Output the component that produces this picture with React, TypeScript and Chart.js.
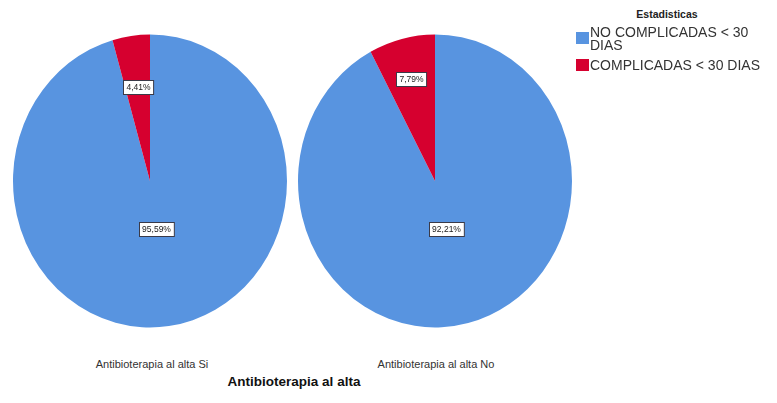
import React, { useEffect, useRef } from "react";
import { Chart, registerables } from "chart.js";

Chart.register(...registerables);

const seriesNames = ["NO COMPLICADAS < 30 DIAS", "COMPLICADAS < 30 DIAS"];
const legendTitle = "Estadisticas";
const categories = ["Antibioterapia al alta Si", "Antibioterapia al alta No"];
const axisTitle = "Antibioterapia al alta";
const valuesSi = [95.59, 4.41];
const valuesNo = [92.21, 7.79];
const colors = ["#5894e0", "#d6002f"];

const Y_STRETCH = 1.069;

const stretchPlugin = {
  id: "stretch",
  beforeDatasetsDraw(chart: any) {
    const { ctx, chartArea } = chart;
    const cx = (chartArea.left + chartArea.right) / 2;
    const cy = (chartArea.top + chartArea.bottom) / 2;
    ctx.save();
    ctx.translate(cx, cy);
    ctx.scale(1, Y_STRETCH);
    ctx.translate(-cx, -cy);
  },
  afterDatasetsDraw(chart: any) {
    chart.ctx.restore();
    const ctx = chart.ctx;
    const meta = chart.getDatasetMeta(0);
    const data = chart.data.datasets[0].data as number[];
    const factors = (chart.options.plugins as any).sliceLabels.factors as number[];
    meta.data.forEach((arc: any, i: number) => {
      const mid = (arc.startAngle + arc.endAngle) / 2;
      const r = arc.outerRadius * factors[i];
      const x = arc.x + Math.cos(mid) * r;
      const y = arc.y + Math.sin(mid) * r * Y_STRETCH;
      const text = data[i].toFixed(2).replace(".", ",") + "%";
      ctx.save();
      ctx.font = "8.5px 'Liberation Sans', Arial, sans-serif";
      const w = ctx.measureText(text).width + 6;
      const h = 14;
      ctx.fillStyle = "#ffffff";
      ctx.fillRect(Math.round(x - w / 2) + 0.5, Math.round(y - h / 2) + 0.5, w, h);
      ctx.strokeStyle = "#3a3a48";
      ctx.lineWidth = 1;
      ctx.strokeRect(Math.round(x - w / 2) + 0.5, Math.round(y - h / 2) + 0.5, w, h);
      ctx.fillStyle = "#222";
      ctx.textAlign = "center";
      ctx.textBaseline = "middle";
      ctx.fillText(text, Math.round(x) + 0.5, Math.round(y) + 1);
      ctx.restore();
    });
  },
};

function PieChart({ values, factors, left, top }: { values: number[]; factors: number[]; left: number; top: number }) {
  const ref = useRef<HTMLCanvasElement>(null);
  useEffect(() => {
    const chart = new Chart(ref.current as HTMLCanvasElement, {
      type: "pie",
      data: {
        labels: seriesNames,
        datasets: [
          {
            data: values,
            backgroundColor: colors,
            borderWidth: 0,
          },
        ],
      },
      options: {
        responsive: false,
        animation: false,
        layout: { padding: 8 },
        plugins: {
          legend: { display: false },
          tooltip: { enabled: false },
          sliceLabels: { factors },
        } as any,
      },
      plugins: [stretchPlugin],
    });
    return () => chart.destroy();
  }, []);
  return (
    <canvas
      ref={ref}
      width={290}
      height={310}
      style={{ position: "absolute", left, top, width: 290, height: 310 }}
    />
  );
}

const textStyle: React.CSSProperties = {
  position: "absolute",
  fontFamily: "'Liberation Sans', Arial, sans-serif",
  color: "#333",
  whiteSpace: "nowrap",
};

export default function App() {
  return (
    <div
      style={{
        position: "absolute",
        left: 0,
        top: 0,
        width: 777,
        height: 403,
        background: "#fff",
        overflow: "hidden",
      }}
    >
      <PieChart values={valuesSi} factors={[0.33, 0.65]} left={5} top={25.5} />
      <PieChart values={valuesNo} factors={[0.34, 0.72]} left={290} top={25.5} />

      <div style={{ ...textStyle, left: 52, width: 200, top: 358, textAlign: "center", fontSize: 11 }}>
        {categories[0]}
      </div>
      <div style={{ ...textStyle, left: 336, width: 200, top: 358, textAlign: "center", fontSize: 11 }}>
        {categories[1]}
      </div>
      <div
        style={{
          ...textStyle,
          left: 194,
          width: 200,
          top: 374,
          textAlign: "center",
          fontSize: 13.5,
          fontWeight: "bold",
          color: "#111",
        }}
      >
        {axisTitle}
      </div>

      <div style={{ ...textStyle, left: 617, width: 100, top: 8, textAlign: "center", fontSize: 10.5, fontWeight: "bold", color: "#222" }}>
        {legendTitle}
      </div>
      <div style={{ position: "absolute", left: 576, top: 32, width: 13, height: 12, background: colors[0] }} />
      <div
        style={{
          ...textStyle,
          left: 590,
          top: 26,
          width: 185,
          whiteSpace: "normal",
          fontSize: 14,
          lineHeight: "12.5px",
        }}
      >
        {"NO COMPLICADAS < 30"}
        <br />
        {"DIAS"}
      </div>
      <div style={{ position: "absolute", left: 576, top: 59, width: 13, height: 12, background: colors[1] }} />
      <div style={{ ...textStyle, left: 590, top: 59, fontSize: 14, lineHeight: "12.5px" }}>
        {seriesNames[1]}
      </div>
    </div>
  );
}
